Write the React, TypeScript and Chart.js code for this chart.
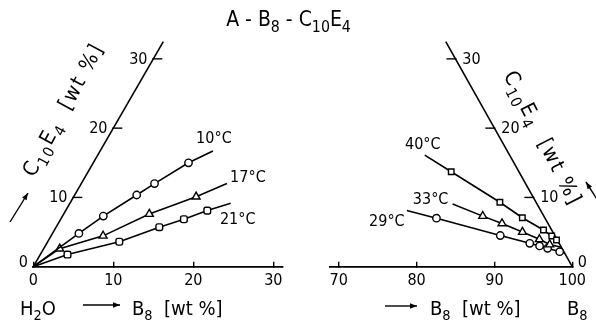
import { useEffect, useRef } from "react";
import { Chart, registerables } from "chart.js";
Chart.register(...registerables);

const FONT = '"DejaVu Sans Condensed", "DejaVu Sans", sans-serif';
const SQ3 = Math.sqrt(3) / 2;

// Axis ticks
const leftXTicks = [0, 10, 20, 30];
const rightXTicks = [70, 80, 90, 100];
const slantTicks = [0, 10, 20, 30];
const slantMax = 32.5;

// Left corner (H2O), ternary values [B8 wt%, C10E4 wt%]
const b10 = [3.3, 5.1, 7.75, 9.15, 11.9];
const c10 = [4.8, 7.3, 10.35, 12.0, 15.0];
const end10 = [14.1, 16.7];
const b17 = [2.0, 6.5, 10.7, 15.3];
const c17 = [2.6, 4.45, 7.6, 10.1];
const end17 = [18.2, 12.0];
const b21 = [3.4, 8.95, 12.9, 15.4, 17.7];
const c21 = [1.75, 3.6, 5.7, 6.85, 8.1];
const end21 = [20.1, 9.15];

// Right corner (B8)
const b40 = [77.6, 86.05, 90.05, 93.65, 95.15, 96.05];
const c40 = [13.7, 9.3, 7.07, 5.3, 4.43, 3.85];
const start40 = [73.0, 16.1];
const end40 = [96.7, 3.3];
const b33 = [84.85, 87.85, 91.1, 93.8, 95.5];
const c33 = [7.3, 6.25, 5.0, 3.95, 3.2];
const start33 = [80.1, 9.05];
const end33 = [97.2, 2.8];
const b29 = [79.05, 88.5, 92.85, 94.3, 95.5, 97.3];
const c29 = [7.0, 4.5, 3.38, 3.0, 2.66, 2.17];
const start29 = [74.7, 8.1];
const end29 = [98.0, 2.0];

const toXY = (b: number, c: number) => ({ x: b + c / 2, y: c * SQ3 });

function series(b: number[], c: number[], start: number[], end: number[], style: string, r: number) {
  const pts = b.map((v, i) => toXY(v, c[i]));
  return {
    data: [toXY(start[0], start[1]), ...pts, toXY(end[0], end[1])],
    showLine: true,
    borderColor: "#000",
    borderWidth: 1.6,
    pointStyle: style,
    pointRadius: [0, ...pts.map(() => r), 0],
    pointBackgroundColor: "#fff",
    pointBorderColor: "#000",
    pointBorderWidth: 1.4,
    clip: false,
  };
}

type Part = [string, boolean];
function drawRich(
  ctx: CanvasRenderingContext2D,
  parts: Part[],
  x: number,
  y: number,
  size: number,
  align: "left" | "center" = "left",
  spacing = 0,
  subRatio = 0.72
) {
  const sub = size * subRatio;
  const chars: { ch: string; s: boolean; w: number }[] = [];
  parts.forEach(([t, s]) => {
    ctx.font = `${s ? sub : size}px ${FONT}`;
    for (const ch of t) chars.push({ ch, s, w: ctx.measureText(ch).width });
  });
  const w = chars.reduce((a, c) => a + c.w, 0) + spacing * (chars.length - 1);
  let cx = align === "center" ? x - w / 2 : x;
  ctx.textAlign = "left";
  ctx.textBaseline = "alphabetic";
  chars.forEach(({ ch, s, w: cw }) => {
    ctx.font = `${s ? sub : size}px ${FONT}`;
    ctx.fillText(ch, cx, s ? y + size * 0.27 : y);
    cx += cw + spacing;
  });
}

function arrow(ctx: CanvasRenderingContext2D, x1: number, y1: number, x2: number, y2: number, head = 7) {
  ctx.beginPath();
  ctx.moveTo(x1, y1);
  ctx.lineTo(x2, y2);
  ctx.stroke();
  const a = Math.atan2(y2 - y1, x2 - x1);
  const hw = head * 0.38;
  ctx.beginPath();
  ctx.moveTo(x2, y2);
  ctx.lineTo(x2 - head * Math.cos(a) + hw * Math.sin(a), y2 - head * Math.sin(a) - hw * Math.cos(a));
  ctx.lineTo(x2 - head * Math.cos(a) - hw * Math.sin(a), y2 - head * Math.sin(a) + hw * Math.cos(a));
  ctx.closePath();
  ctx.fill();
}

const C10E4: Part[] = [["C", false], ["10", true], ["E", false], ["4", true], ["  [wt %]", false]];
const B8WT: Part[] = [["B", false], ["8", true], ["  [wt %]", false]];

const leftLabels = [
  { text: "10°C", at: end10, dx: 1, dy: -12 },
  { text: "17°C", at: end17, dx: 21, dy: -6 },
  { text: "21°C", at: end21, dx: 7, dy: 17 },
];
const rightLabels = [
  { text: "40°C", at: start40, dx: -2, dy: -10.5 },
  { text: "33°C", at: start33, dx: -22, dy: -4 },
  { text: "29°C", at: start29, dx: -20, dy: 11 },
];

function makeDecor(side: "left" | "right") {
  const P = (c: number) => (side === "left" ? toXY(0, c) : toXY(100 - c, c));
  return {
    id: "decor-" + side,
    beforeDatasetsDraw(chart: any) {
      const { ctx, scales } = chart;
      const { x, y } = scales;
      const px = (p: { x: number; y: number }) => [x.getPixelForValue(p.x), y.getPixelForValue(p.y)];
      ctx.save();
      ctx.strokeStyle = "#000";
      ctx.fillStyle = "#000";
      ctx.lineWidth = 1.6;
      const [x0, y0] = px(P(0));
      const [x1, y1] = px(P(slantMax));
      ctx.beginPath();
      ctx.moveTo(x0, y0);
      ctx.lineTo(x1, y1);
      ctx.stroke();
      ctx.font = `16px ${FONT}`;
      ctx.textAlign = "center";
      ctx.textBaseline = "middle";
      ctx.lineWidth = 1.4;
      slantTicks.forEach((t) => {
        const [tx, ty] = px(P(t));
        if (t === 0) {
          ctx.fillText("0", side === "left" ? tx - 10 : tx + 10, ty - 4);
          return;
        }
        ctx.beginPath();
        if (side === "left") {
          ctx.moveTo(tx - 1, ty);
          ctx.lineTo(tx + 9, ty);
        } else {
          ctx.moveTo(tx - 9, ty);
          ctx.lineTo(tx + 1, ty);
        }
        ctx.stroke();
        ctx.fillText(String(t), side === "left" ? tx - 15 : tx + 16, ty + 0.5);
      });
      ctx.restore();
    },
    afterDraw(chart: any) {
      const { ctx, scales } = chart;
      const { x, y } = scales;
      ctx.save();
      ctx.fillStyle = "#000";
      ctx.strokeStyle = "#000";
      ctx.lineWidth = 1.4;
      const labels = side === "left" ? leftLabels : rightLabels;
      ctx.font = `16px ${FONT}`;
      ctx.textAlign = "center";
      ctx.textBaseline = "middle";
      labels.forEach((l) => {
        const p = toXY(l.at[0], l.at[1]);
        ctx.fillText(l.text, x.getPixelForValue(p.x) + l.dx, y.getPixelForValue(p.y) + l.dy);
      });
      if (side === "left") {
        drawRich(
          ctx,
          [["A", false], [" - ", false], ["B", false], ["8", true], [" - ", false], ["C", false], ["10", true], ["E", false], ["4", true]],
          288.5,
          26,
          21,
          "center",
          0,
          0.75
        );
        drawRich(ctx, [["H", false], ["2", true], ["O", false]], 20, 315, 20);
        arrow(ctx, 83, 305, 120, 305);
        drawRich(ctx, B8WT, 132, 315, 20);
        ctx.save();
        ctx.translate(62, 110);
        ctx.rotate((-61.7 * Math.PI) / 180);
        drawRich(ctx, C10E4, 0, 7.5, 21, "center", 1.8);
        ctx.restore();
        arrow(ctx, 10, 222, 28, 193);
      } else {
        arrow(ctx, 385, 306, 417, 306);
        drawRich(ctx, B8WT, 430, 315, 20);
        drawRich(ctx, [["B", false], ["8", true]], 567, 315, 20);
        ctx.save();
        ctx.translate(543, 137);
        ctx.rotate((63 * Math.PI) / 180);
        drawRich(ctx, C10E4, 0, 7.5, 21, "center", 1.8);
        ctx.restore();
        arrow(ctx, 600, 204, 586, 182);
      }
      ctx.restore();
    },
  };
}

function config(side: "left" | "right"): any {
  const left = side === "left";
  const datasets = left
    ? [
        series(b10, c10, [0, 0], end10, "circle", 3.7),
        series(b17, c17, [0, 0], end17, "triangle", 4.6),
        series(b21, c21, [0, 0], end21, "rectRounded", 3.9),
      ]
    : [
        series(b40, c40, start40, end40, "rect", 3.9),
        series(b33, c33, start33, end33, "triangle", 4.6),
        series(b29, c29, start29, end29, "circle", 3.7),
      ];
  const ticks = left ? leftXTicks : rightXTicks;
  return {
    type: "scatter",
    data: { datasets },
    options: {
      responsive: false,
      animation: false,
      devicePixelRatio: 1,
      events: [],
      layout: { padding: left ? { left: 33.3, right: 313.1, top: 41.1, bottom: 0 } : { left: 330.2, right: 17, top: 41.1, bottom: 0 } },
      plugins: { legend: { display: false }, tooltip: { enabled: false }, title: { display: false } },
      scales: {
        x: {
          type: "linear",
          min: left ? 0 : 68.9,
          max: left ? 31.2 : 100,
          afterBuildTicks: (s: any) => {
            s.ticks = ticks.map((v) => ({ value: v }));
          },
          afterFit: (s: any) => {
            s.height = 59.3;
          },
          grid: { display: true, drawOnChartArea: false, drawTicks: true, tickLength: -5, color: "#000", lineWidth: 1.4 },
          border: { display: true, color: "#000", width: 1.7 },
          ticks: { color: "#000", font: { family: FONT, size: 16 }, padding: 10, maxRotation: 0, autoSkip: false },
        },
        y: { type: "linear", display: false, min: 0, max: 28.2 },
      },
    },
    plugins: [makeDecor(side)],
  };
}

export default function App() {
  const leftRef = useRef<HTMLCanvasElement>(null);
  const rightRef = useRef<HTMLCanvasElement>(null);
  useEffect(() => {
    const c1 = new Chart(leftRef.current as HTMLCanvasElement, config("left"));
    const c2 = new Chart(rightRef.current as HTMLCanvasElement, config("right"));
    return () => {
      c1.destroy();
      c2.destroy();
    };
  }, []);
  return (
    <div style={{ position: "absolute", left: 0, top: 0, width: 596, height: 326, background: "#fff", overflow: "hidden" }}>
      <canvas ref={leftRef} width={596} height={326} style={{ position: "absolute", left: 0, top: 0 }} />
      <canvas ref={rightRef} width={596} height={326} style={{ position: "absolute", left: 0, top: 0 }} />
    </div>
  );
}
